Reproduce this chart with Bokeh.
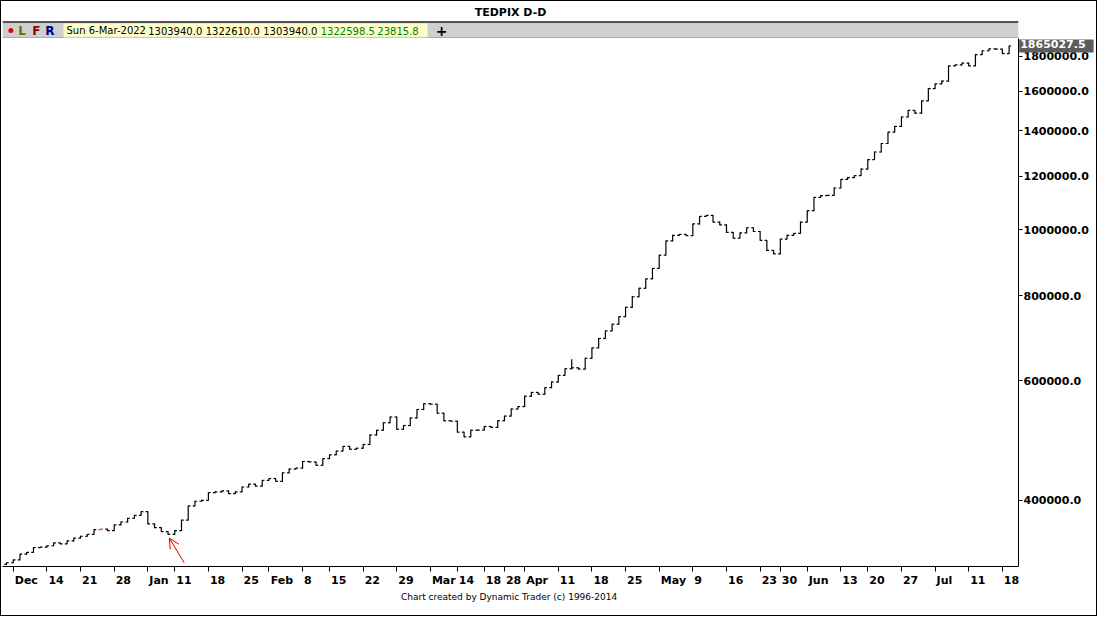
from bokeh.plotting import figure
from bokeh.layouts import column
from bokeh.models import (ColumnDataSource, Range1d, FixedTicker, PrintfTickFormatter,
                          Label, Arrow, OpenHead, Title)
from bokeh.core.properties import value
from bokeh.embed import file_html
from bokeh.resources import INLINE

# ---------------- data ----------------
title_text = "TEDPIX D-D"
info_date = "Sun 6-Mar-2022"
info_values = ["1303940.0", "1322610.0", "1303940.0", "1322598.5", "23815.8"]
footer_text = "Chart created by Dynamic Trader  (c) 1996-2014"
last_price = 1865027.5

# daily closes (one per trading day, bar index 0..149)
close = [
    323700, 326800, 333200, 335300, 340700, 341200, 342900, 346200, 345100, 348500,
    351800, 354100, 356400, 362200, 362800, 361000, 368000, 371600, 376400, 380000,
    384900, 369200, 364500, 359800, 356400, 361000, 374000, 392400, 398700, 400000,
    410400, 411700, 413000, 409100, 411700, 418400, 422400, 419700, 427900, 430600,
    426500, 439000, 444700, 446100, 456200, 455500, 450400, 460600, 466600, 472600,
    480200, 475600, 477200, 483300, 499100, 507100, 520300, 530400, 508800, 515300,
    528700, 544200, 554800, 554000, 537300, 523700, 523000, 503900, 495900, 507100,
    507500, 513700, 512000, 523700, 532100, 545000, 549500, 569200, 576600, 572900,
    585900, 597300, 610800, 624700, 626700, 624000, 647200, 670400, 692200, 710200,
    726400, 745200, 769500, 797200, 820500, 847200, 877700, 918000, 963200, 981900,
    985100, 981000, 1020400, 1047000, 1050300, 1027000, 1017200, 991400, 972500, 990000,
    1007400, 994600, 965000, 932800, 922000, 969400, 981900, 988200, 1027000, 1067300,
    1116300, 1123500, 1124500, 1152700, 1186400, 1194100, 1201800, 1229000, 1269100, 1302100,
    1340200, 1392800, 1419900, 1466200, 1499400, 1485100, 1548300, 1614200, 1640300, 1656200,
    1743400, 1749000, 1760200, 1743400, 1811800, 1835100, 1847000, 1845000, 1817600, 1865027.5,
]
first_open = 322000
spike_bar = 84
spike_high = 645000
highlight_bar = 14

tick_positions = [1, 6, 11, 16, 21, 25, 30, 35, 39, 44, 48, 53, 58, 63, 67, 71, 74, 77,
                  82, 87, 92, 97, 102, 107, 112, 115, 119, 124, 128, 133, 138, 143, 148]
tick_labels = ["Dec", "14", "21", "28", "Jan", "11", "18", "25", "Feb", "8", "15", "22",
               "29", "Mar", "14", "18", "28", "Apr", "11", "18", "25", "May", "9", "16",
               "23", "30", "Jun", "13", "20", "27", "Jul", "11", "18"]
y_ticks = [400000, 600000, 800000, 1000000, 1200000, 1400000, 1600000, 1800000]

# ---------------- build OHLC ----------------
n = len(close)
idx = list(range(n))
opens = [first_open] + close[:-1]
highs = [max(o, c) * 1.0015 for o, c in zip(opens, close)]
lows = [min(o, c) / 1.0015 for o, c in zip(opens, close)]
highs[spike_bar] = spike_high
colors = ["black"] * n
colors[highlight_bar] = "#e030e0"
tw = 0.33
src = ColumnDataSource(dict(
    x=idx, xl=[i - tw for i in idx], xr=[i + tw for i in idx],
    open=opens, close=close, high=highs, low=lows, color=colors))

W = 1095
FONT = "DejaVu Sans"
X0, X1 = -0.6, 150.4
BL, BR = 1, 78
px_per_bar = (W - BL - BR) / (X1 - X0)

# ---------------- header ----------------
HH = 37
hdr = figure(width=W, height=HH, x_range=Range1d(0, W), y_range=Range1d(HH, 0),
             toolbar_location=None, output_backend="svg", min_border=0,
             x_axis_location=None, y_axis_location=None)
hdr.grid.visible = False
hdr.outline_line_color = None
hdr.background_fill_color = "white"
hdr.border_fill_color = "white"
hdr.quad(left=[0], right=[W], top=[21], bottom=[36], fill_color="#cfcfcf", line_color=None)
hdr.segment(x0=[0], y0=[20.5], x1=[W], y1=[20.5], line_color="#202020", line_width=1.5)
hdr.segment(x0=[0], y0=[36.5], x1=[W], y1=[36.5], line_color="#707070", line_width=1)
hdr.quad(left=[66], right=[458], top=[22], bottom=[35.5], fill_color="#ffffcc", line_color="#e8e8c0")
hdr.text(x=[W / 2], y=[10.5], text=[title_text], text_font=value(FONT), text_font_size="11px",
         text_font_style="bold", text_align="center", text_baseline="middle", text_color="black")
hdr.scatter(x=[9], y=[29], size=5, fill_color="#e00000", line_color=None)
hdr.text(x=[17, 32, 46], y=[29, 29, 29], text=["L", "F", "R"], text_font=value(FONT),
         text_font_size="12px", text_font_style="bold", text_baseline="middle",
         text_color=["#557700", "#8b0000", "#000088"])
hdr.text(x=[69, 157, 219, 281], y=[29] * 4, text=[info_date] + info_values[:3],
         text_font=value(FONT), text_font_size="10px", text_baseline="middle", text_color="black")
hdr.text(x=[343, 404], y=[29, 29], text=info_values[3:], text_font=value(FONT),
         text_font_size="10px", text_baseline="middle", text_color="#008000")
hdr.text(x=[467], y=[29], text=["+"], text_font=value(FONT), text_font_size="14px",
         text_font_style="bold", text_baseline="middle", text_color="black")

# ---------------- main chart ----------------
MH = 616 - 2 - HH
p = figure(width=W, height=MH, x_range=Range1d(X0, X1), y_range=Range1d(319600, 1913000),
           y_axis_type="log", y_axis_location="right", toolbar_location=None,
           output_backend="svg", min_border_left=BL, min_border_right=BR, min_border_top=0,
           min_border_bottom=0)
p.grid.visible = False
p.outline_line_color = None
p.background_fill_color = "white"
p.border_fill_color = "white"

p.segment(x0="x", y0="low", x1="x", y1="high", source=src, line_color="color", line_width=1.2)
p.segment(x0="xl", y0="open", x1="x", y1="open", source=src, line_color="color", line_width=1.2)
p.segment(x0="x", y0="close", x1="xr", y1="close", source=src, line_color="color", line_width=1.2)

# x axis: tick marks at the dates (minor ticks), labels placed just right of each tick
BOLD_EM = {"D": .830, "e": .678, "c": .593, "J": .372, "a": .675, "n": .712, "F": .683,
           "b": .716, "M": .995, "r": .493, "A": .774, "p": .716, "y": .652, "u": .712,
           "l": .343}


def label_width(s, size=11):
    return sum(BOLD_EM.get(ch, .696) for ch in s) * size


label_pos = [round(t + (label_width(l) / 2 + 1.5) / px_per_bar, 3)
             for t, l in zip(tick_positions, tick_labels)]

xa = p.xaxis[0]
xa.ticker = FixedTicker(ticks=label_pos, minor_ticks=tick_positions)
xa.major_label_overrides = {pos: l for pos, l in zip(label_pos, tick_labels)}
xa.major_tick_line_color = None
xa.major_tick_out = 5
xa.major_tick_in = 0
xa.minor_tick_line_color = "black"
xa.minor_tick_out = 5
xa.minor_tick_in = 0
xa.axis_line_color = "black"
xa.major_label_standoff = 2
xa.major_label_text_font = FONT
xa.major_label_text_font_style = "bold"
xa.major_label_text_font_size = "11px"
xa.major_label_text_color = "black"

ya = p.yaxis[0]
ya.ticker = FixedTicker(ticks=y_ticks)
ya.formatter = PrintfTickFormatter(format="%.1f")
ya.major_tick_out = 4
ya.major_tick_in = 0
ya.minor_tick_line_color = None
ya.axis_line_color = "black"
ya.major_tick_line_color = "black"
ya.major_label_text_font = FONT
ya.major_label_text_font_style = "bold"
ya.major_label_text_font_size = "11px"
ya.major_label_text_color = "black"
ya.major_label_standoff = 1

# arrow pointing at the January low
arrow_tip = (24.2, 351800)
arrow_tail = (26.4, 323700)
p.add_layout(Arrow(end=OpenHead(size=10, line_color="#d00000", line_width=1),
                   x_start=arrow_tail[0], y_start=arrow_tail[1],
                   x_end=arrow_tip[0], y_end=arrow_tip[1],
                   line_color="#d00000", line_width=1))

# footer line (centred on the whole chart width)
frame_w = W - BL - BR
p.add_layout(Title(text=footer_text, align="center", offset=W / 2 - (BL + frame_w / 2),
                   text_font=FONT, text_font_size="9px", text_font_style="normal",
                   text_color="black", standoff=1), "below")

# last price marker on the price axis; kept in a side panel so it is not clipped
p.add_layout(Label(x=X1 + 0.1, y=last_price, x_units="data", y_units="data",
                   text="%.1f" % last_price, text_font=FONT, text_font_style="bold",
                   text_font_size="11px", text_color="white", text_baseline="middle",
                   background_fill_color="#5c5c5c", padding=(1, 8, 1, 4)), "below")

layout = column(hdr, p, spacing=0, styles={"border": "1px solid black"})

open("out.html", "w").write(file_html(layout, INLINE))
